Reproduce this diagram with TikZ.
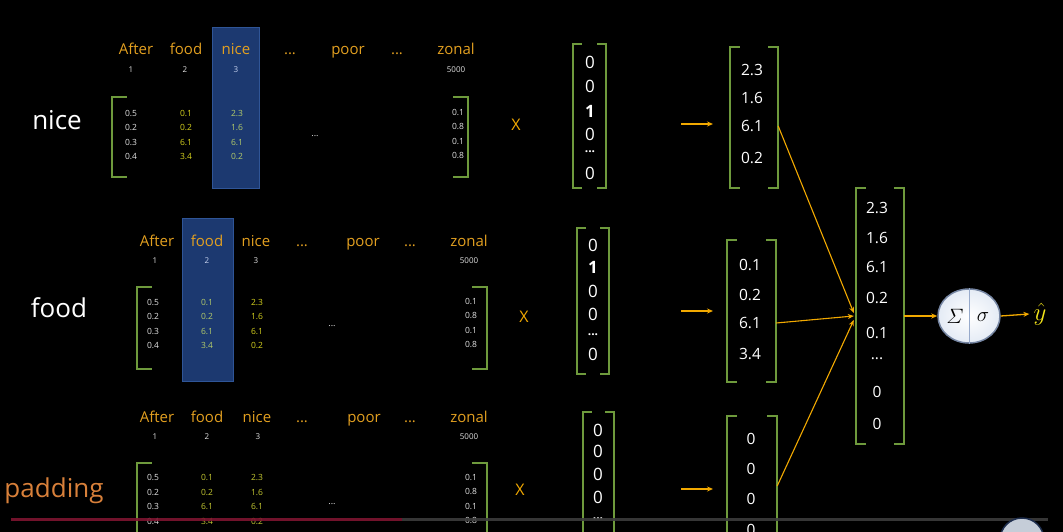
\documentclass[tikz,border=0pt]{standalone}
\usepackage{amsmath}
\usepackage{fontspec}
\setmainfont{Open Sans}
\usetikzlibrary{arrows.meta,calc,shapes.geometric}
\definecolor{hdrc}{HTML}{E3A020}
\definecolor{brc}{HTML}{6E9A3C}
\definecolor{arrc}{HTML}{F2A900}
\definecolor{yelc}{HTML}{D6D21E}
\definecolor{grnc}{HTML}{B4CC6A}
\definecolor{ygc}{HTML}{C4C832}
\definecolor{hlfill}{HTML}{1C3970}
\definecolor{hlline}{HTML}{2F5597}
\definecolor{padc}{HTML}{D8803A}
\definecolor{yhatc}{HTML}{F5E61A}
\definecolor{valc}{HTML}{E2E2E2}
\definecolor{idxhl}{HTML}{C8D4F0}
\definecolor{barred}{HTML}{7E1430}
\definecolor{bargray}{HTML}{3C3C3C}
\definecolor{btnfill}{HTML}{C5CDD8}
\definecolor{btnline}{HTML}{1E2E4E}
\definecolor{neuedge}{HTML}{E4EBF5}
\newcommand{\tdots}{...}
\newcommand{\brk}[2]{%
  \draw[br] ([xshift=#2]#1.north west) -- (#1.north west) -- (#1.south west) -- ([xshift=#2]#1.south west);
  \draw[br] ([xshift=-#2]#1.north east) -- (#1.north east) -- (#1.south east) -- ([xshift=-#2]#1.south east);}
\begin{document}
\begin{tikzpicture}[x=1pt,y=-1pt,
  hdr/.style={text=hdrc, font=\fontsize{15}{16}\selectfont, inner sep=0, anchor=base},
  idx/.style={text=valc, font=\fontsize{8}{9}\selectfont, inner sep=0},
  valcol/.style={align=center, font=\fontsize{8.5}{14.5}\selectfont, inner sep=0},
  big/.style={font=\fontsize{26}{30}\selectfont, inner sep=0},
  vnum/.style={text=white, font=\fontsize{15.5}{17}\selectfont, inner sep=0},
  onum/.style={text=white, font=\fontsize{17}{18}\selectfont, inner sep=0},
  odots/.style={text=white, font=\bfseries\fontsize{12}{14}\selectfont, inner sep=0},
  xmark/.style={text=arrc, font=\fontsize{16}{18}\selectfont, inner sep=0},
  boxn/.style={inner sep=0, draw=none},
  hl/.style={fill=hlfill, draw=hlline, line width=0.8pt, inner sep=0},
  br/.style={draw=brc, line width=1.5pt},
  arr/.style={draw=arrc, line width=1.3pt, -{Stealth[length=6pt,width=5pt]}},
  bar/.style={line width=3pt}]
\useasboundingbox[fill=black] (0,0) rectangle (1063,532);
\clip (0,0) rectangle (1063,532);

% ---------------- highlights
\node[hl, minimum width=47pt, minimum height=161pt] (hl1) at (235.5,107.5) {};
\node[hl, minimum width=51pt, minimum height=163pt] (hl2) at (207.5,299.5) {};

% ---------------- section 1 : nice
\foreach \n/\x/\t in {a/136/After, b/186/food, c/236/nice, d/290/\tdots, e/348/poor, f/397/\tdots, g/456/zonal}
  \node[hdr] (s1h\n) at (\x,55) {\t};
\node[idx] (s1i1) at (131,70) {1};
\node[idx] (s1i2) at (185,70) {2};
\node[idx, text=idxhl] (s1i3) at (236,70) {3};
\node[idx] (s1i4) at (456,70) {5000};
\node[big, text=white] (lab1) at (57,120) {nice};
\node[boxn, minimum width=356pt, minimum height=80pt] (m1) at (290,137) {};
\brk{m1}{15pt}
\node[valcol, text=valc] (s1c1) at (131,135) {0.5\\0.2\\0.3\\0.4};
\node[valcol, text=yelc] (s1c2) at (186,135) {0.1\\0.2\\6.1\\3.4};
\node[valcol, text=grnc] (s1c3) at (237,135) {2.3\\1.6\\6.1\\0.2};
\node[valcol, text=valc] (s1c4) at (458,134) {0.1\\0.8\\0.1\\0.8};
\node[idx, font=\fontsize{9}{10}\selectfont] (s1dots) at (315,136) {...};
\node[xmark] (x1) at (516,125) {X};
\node[boxn, minimum width=33pt, minimum height=144pt] (o1) at (589.5,116) {};
\brk{o1}{9pt}
\node[onum] (o1a) at (590,62) {0};
\node[onum] (o1b) at (590,86) {0};
\node[onum] (o1c) at (590,111) {\textbf{1}};
\node[onum] (o1d) at (590,134) {0};
\node[odots] (o1e) at (590,152) {...};
\node[onum] (o1f) at (590,173) {0};
\coordinate (a1s) at (681,124);
\coordinate (a1e) at (713,124);
\draw[arr] (a1s) -- (a1e);
\node[boxn, minimum width=48pt, minimum height=141pt] (e1) at (754,117.5) {};
\brk{e1}{10pt}
\node[vnum] (e1a) at (752,70) {2.3};
\node[vnum] (e1b) at (752,98) {1.6};
\node[vnum] (e1c) at (752,126) {6.1};
\node[vnum] (e1d) at (752,158) {0.2};

% ---------------- section 2 : food
\foreach \n/\x/\t in {a/157/After, b/207/food, c/256/nice, d/302/\tdots, e/363/poor, f/410/\tdots, g/469/zonal}
  \node[hdr] (s2h\n) at (\x,246) {\t};
\node[idx] (s2i1) at (155,261) {1};
\node[idx, text=idxhl] (s2i2) at (207,261) {2};
\node[idx] (s2i3) at (256,261) {3};
\node[idx] (s2i4) at (469,261) {5000};
\node[big, text=white] (lab2) at (59,308) {food};
\node[boxn, minimum width=350pt, minimum height=82pt] (m2) at (312,328) {};
\brk{m2}{15pt}
\node[valcol, text=valc] (s2c1) at (153,324) {0.5\\0.2\\0.3\\0.4};
\node[valcol, text=grnc] (s2c2) at (207,324) {0.1\\0.2\\6.1\\3.4};
\node[valcol, text=yelc] (s2c3) at (257,324) {2.3\\1.6\\6.1\\0.2};
\node[valcol, text=valc] (s2c4) at (471,323) {0.1\\0.8\\0.1\\0.8};
\node[idx, font=\fontsize{9}{10}\selectfont] (s2dots) at (332,326) {...};
\node[xmark] (x2) at (524,317) {X};
\node[boxn, minimum width=32pt, minimum height=146pt] (o2) at (593,301) {};
\brk{o2}{9pt}
\node[onum] (o2a) at (593,245) {0};
\node[onum] (o2b) at (593,267) {\textbf{1}};
\node[onum] (o2c) at (593,291) {0};
\node[onum] (o2d) at (593,314) {0};
\node[odots] (o2e) at (593,335) {...};
\node[onum] (o2f) at (593,354) {0};
\coordinate (a2s) at (681,311);
\coordinate (a2e) at (713,311);
\draw[arr] (a2s) -- (a2e);
\node[boxn, minimum width=49pt, minimum height=142pt] (e2) at (751.5,311) {};
\brk{e2}{10pt}
\node[vnum] (e2a) at (750,265) {0.1};
\node[vnum] (e2b) at (750,295) {0.2};
\node[vnum] (e2c) at (750,323) {6.1};
\node[vnum] (e2d) at (750,354) {3.4};

% ---------------- section 3 : padding
\foreach \n/\x/\t in {a/157/After, b/207/food, c/257/nice, d/302/\tdots, e/364/poor, f/410/\tdots, g/469/zonal}
  \node[hdr] (s3h\n) at (\x,422) {\t};
\node[idx] (s3i1) at (155,437) {1};
\node[idx] (s3i2) at (207,437) {2};
\node[idx] (s3i3) at (258,437) {3};
\node[idx] (s3i4) at (469,437) {5000};
\node[big, text=padc] (lab3) at (54,491) {padding};
\node[boxn, minimum width=350pt, minimum height=84pt] (m3) at (312,505) {};
\brk{m3}{15pt}
\node[valcol, text=valc] (s3c1) at (153,499.5) {0.5\\0.2\\0.3\\0.4};
\node[valcol, text=ygc] (s3c2) at (207,499.5) {0.1\\0.2\\6.1\\3.4};
\node[valcol, text=ygc] (s3c3) at (257,499.5) {2.3\\1.6\\6.1\\0.2};
\node[valcol, text=valc] (s3c4) at (471,499) {0.1\\0.8\\0.1\\0.8};
\node[idx, font=\fontsize{9}{10}\selectfont] (s3dots) at (332,504) {...};
\node[xmark] (x3) at (520,490) {X};
\node[boxn, minimum width=31pt, minimum height=148pt] (o3) at (598.5,486) {};
\brk{o3}{9pt}
\node[onum] (o3a) at (598,430) {0};
\node[onum] (o3b) at (598,451) {0};
\node[onum] (o3c) at (598,474) {0};
\node[onum] (o3d) at (598,497) {0};
\node[odots] (o3e) at (598,519) {...};
\coordinate (a3s) at (681,489);
\coordinate (a3e) at (713,489);
\draw[arr] (a3s) -- (a3e);
\node[boxn, minimum width=50pt, minimum height=144pt] (e3) at (752,488) {};
\brk{e3}{10pt}
\node[vnum] (e3a) at (751,439) {0};
\node[vnum] (e3b) at (751,469) {0};
\node[vnum] (e3c) at (751,499) {0};
\node[vnum] (e3d) at (751,530) {0};

% ---------------- merged vector
\node[boxn, minimum width=48pt, minimum height=256pt] (mg) at (880,316) {};
\brk{mg}{10pt}
\node[vnum] (mga) at (877,208) {2.3};
\node[vnum] (mgb) at (877,238) {1.6};
\node[vnum] (mgc) at (877,267) {6.1};
\node[vnum] (mgd) at (877,298) {0.2};
\node[vnum] (mge) at (877,333) {0.1};
\node[vnum] (mgf) at (877,359) {...};
\node[vnum] (mgg) at (877,392) {0};
\node[vnum] (mgh) at (877,424) {0};

% connectors into merged vector
\draw[arr, line width=1.1pt] (e1.east |- e1c) -- ([yshift=3pt,xshift=-2pt]mg.west);
\draw[arr, line width=1.1pt] (e2.east |- e2c) -- ([xshift=-2pt]mg.west);
\draw[arr, line width=1.1pt] ([yshift=2pt]e3.east) -- ([yshift=-4pt,xshift=-2pt]mg.west);

% neuron
\node[ellipse, inner color=white, outer color=neuedge, draw=hlline!55!gray!80!white, line width=1.5pt, minimum width=62pt, minimum height=54pt, inner sep=0] (neu) at (969,316) {};
\draw[draw=hlline!50!white, line width=1pt] (neu.north) -- (neu.south);
\node[inner sep=0, font=\fontsize{20}{22}\selectfont] (sig1) at (955,316) {$\varSigma$};
\node[inner sep=0, font=\fontsize{20}{22}\selectfont] (sig2) at (983,317) {$\sigma$};
\node[inner sep=0, text=yhatc, font=\fontsize{26}{28}\selectfont] (yh) at (1040,314) {$\hat{y}$};
\draw[arr] (mg.east) -- (neu.west);
\draw[arr] (neu.east) -- ([xshift=-4pt]yh.west);

% video progress bar
\coordinate (b0) at (11,519);
\coordinate (b1) at (402,519);
\coordinate (b2) at (1048,519);
\draw[bar, draw=bargray, opacity=0.9] (b1) -- (b2);
\draw[bar, draw=barred, opacity=0.9] (b0) -- (b1);
\node[circle, fill=btnfill, draw=btnline, line width=1.5pt, minimum size=44pt] (btn) at (1022,540) {};
\end{tikzpicture}
\end{document}
